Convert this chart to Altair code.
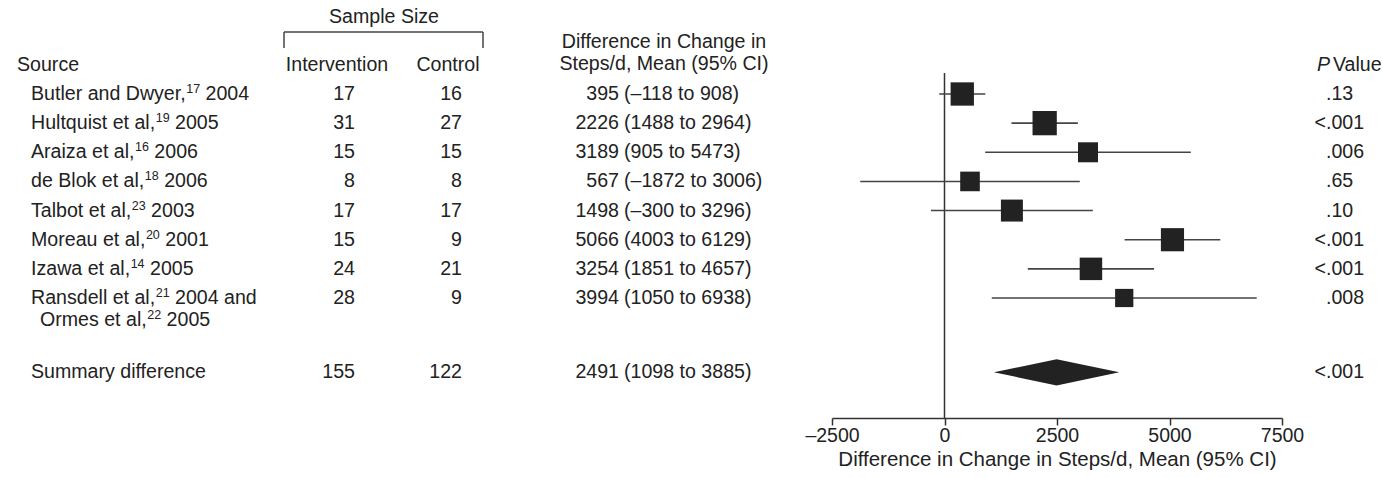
import altair as alt
import pandas as pd

# ---- study data -------------------------------------------------------------
# each source label: (author text, reference number, year text)
source_author = [
    "Butler and Dwyer,",
    "Hultquist et al,",
    "Araiza et al,",
    "de Blok et al,",
    "Talbot et al,",
    "Moreau et al,",
    "Izawa et al,",
    "Ransdell et al,",
]
source_ref = ["17", "19", "16", "18", "23", "20", "14", "21"]
source_year = ["2004", "2005", "2006", "2006", "2003", "2001", "2005", "2004 and"]
continuation_author = "Ormes et al,"
continuation_ref = "22"
continuation_year = "2005"

n_intervention = [17, 31, 15, 8, 17, 15, 24, 28]
n_control = [16, 27, 15, 8, 17, 9, 21, 9]
mean_diff = [395, 2226, 3189, 567, 1498, 5066, 3254, 3994]
ci_low = [-118, 1488, 905, -1872, -300, 4003, 1851, 1050]
ci_high = [908, 2964, 5473, 3006, 3296, 6129, 4657, 6938]
p_values = [".13", "<.001", ".006", ".65", ".10", "<.001", "<.001", ".008"]
weights = [14.4, 15.6, 10.6, 10.2, 12.8, 14.2, 13.4, 8.8]  # study weight, %

summary_label = "Summary difference"
summary_n_intervention = 155
summary_n_control = 122
summary_mean = 2491
summary_low = 1098
summary_high = 3885
summary_p = "<.001"

x_ticks = [-2500, 0, 2500, 5000, 7500]

# ---- layout / styling ---------------------------------------------------------
FONT = "Liberation Sans"
INK = "#222222"
FS = 19.6          # body text
FS_SUP = 12.5      # reference superscripts
LABEL_X = 31
study_rows = list(range(len(source_author)))
summary_row = 9.55
continuation_row = 7.75

# Liberation Sans advance widths (Arial-compatible), units per 1000 em
ADV = {" ": 278, ",": 278, "a": 556, "b": 556, "c": 500, "d": 556, "e": 556,
       "f": 278, "g": 556, "h": 556, "i": 222, "k": 500, "l": 222, "m": 833,
       "n": 556, "o": 556, "p": 556, "q": 556, "r": 333, "s": 500, "t": 278,
       "u": 556, "v": 500, "w": 722, "y": 500, "z": 500, "A": 667, "B": 667,
       "D": 722, "H": 722, "I": 278, "M": 833, "O": 778, "R": 722, "T": 611}
KERN = {"Ta": -111, "r,": -55}


def text_width(s, size):
    units = sum(ADV.get(ch, 556) for ch in s)
    units += sum(KERN.get(s[k:k + 2], 0) for k in range(len(s) - 1))
    return units * size / 1000.0


x_scale = alt.Scale(domain=[-2500, 7500], range=[832, 1282], nice=False, zero=False)
y_scale = alt.Scale(domain=[0, 7], range=[94, 298], nice=False, zero=False)
x_axis = alt.Axis(
    values=x_ticks,
    title="Difference in Change in Steps/d, Mean (95% CI)",
    labelExpr="(datum.value < 0 ? '\u2013' : '') + format(abs(datum.value), 'd')",
    labelFlush=False,
    grid=False,
    domainColor="#333333",
    domainWidth=1.5,
    tickColor="#333333",
    tickWidth=1.5,
    tickSize=7,
    labelFont=FONT,
    labelFontSize=19.5,
    labelColor=INK,
    labelPadding=1,
    titleFont=FONT,
    titleFontSize=20.5,
    titleFontWeight="normal",
    titleColor=INK,
    titlePadding=5,
)


def fmt_num(v):
    return ("\u2013" + str(abs(v))) if v < 0 else str(v)


def ci_text(lo, hi):
    return f"({fmt_num(lo)} to {fmt_num(hi)})"


rows = pd.DataFrame({
    "row": study_rows + [summary_row],
    "n_i": [str(v) for v in n_intervention + [summary_n_intervention]],
    "n_c": [str(v) for v in n_control + [summary_n_control]],
    "mean": [str(v) for v in mean_diff + [summary_mean]],
    "ci": [ci_text(a, b) for a, b in zip(ci_low + [summary_low], ci_high + [summary_high])],
    "p_pre": [("<" if p.startswith("<") else "") for p in p_values + [summary_p]],
    "p_rest": [p.lstrip("<") for p in p_values + [summary_p]],
})

studies = pd.DataFrame({
    "row": study_rows,
    "mean": mean_diff,
    "lo": ci_low,
    "hi": ci_high,
    "weight": weights,
})

diamond = pd.DataFrame({
    "x": [summary_low, summary_mean, summary_high],
    "y_lo": [summary_row, summary_row - 0.45, summary_row],
    "y_hi": [summary_row, summary_row + 0.45, summary_row],
})

Y = alt.Y("row:Q", scale=y_scale, axis=None)


def column(field, x, align):
    return alt.Chart(rows).mark_text(
        font=FONT, fontSize=FS, color=INK, align=align, baseline="middle"
    ).encode(x=alt.value(x), y=Y, text=f"{field}:N")


def header(text, x, y, align="center", style="normal"):
    return alt.Chart(pd.DataFrame({"t": [text]})).mark_text(
        font=FONT, fontSize=FS, color=INK, align=align, baseline="middle", fontStyle=style
    ).encode(x=alt.value(x), y=alt.value(y), text="t:N")


def line(x, x2, y, y2):
    return alt.Chart(pd.DataFrame({"k": [0]})).mark_rule(
        color="#444444", strokeWidth=1.5
    ).encode(x=alt.value(x), x2=alt.value(x2), y=alt.value(y), y2=alt.value(y2))


def row_text(text, row, x, size=FS, dy=0):
    return alt.Chart(pd.DataFrame({"row": [row], "t": [text]})).mark_text(
        font=FONT, fontSize=size, color=INK, align="left", baseline="middle", dy=dy
    ).encode(x=alt.value(x), y=Y, text="t:N")


# ---- source labels: author, raised reference number, year -------------------------
label_layers = []
all_authors = source_author + [continuation_author]
all_refs = source_ref + [continuation_ref]
all_years = source_year + [continuation_year]
all_rows = study_rows + [continuation_row]
for i, (au, rf, yr, r) in enumerate(zip(all_authors, all_refs, all_years, all_rows)):
    x0 = LABEL_X + (9 if i == len(all_authors) - 1 else 0)
    x_sup = x0 + text_width(au, FS) + 0.5
    x_year = x_sup + text_width(rf, FS_SUP) + text_width(" ", FS)
    label_layers += [
        row_text(au, r, x0),
        row_text(rf, r, x_sup, FS_SUP, -5),
        row_text(yr, r, x_year),
    ]
label_layers.append(row_text(summary_label, summary_row, LABEL_X))

# ---- table columns --------------------------------------------------------------
col_ni = column("n_i", 355, "right")
col_nc = column("n_c", 462, "right")
col_mean = column("mean", 619, "right")
col_ci = column("ci", 624, "left")
col_p_pre = column("p_pre", 1326, "right")
col_p_rest = column("p_rest", 1326, "left")

headers = [
    header("Sample Size", 384, 17),
    line(284, 483, 32, 32),
    line(284, 284, 32, 48),
    line(483, 483, 32, 48),
    header("Source", 17, 65, "left"),
    header("Intervention", 337, 65),
    header("Control", 448, 65),
    header("Difference in Change in", 664, 42),
    header("Steps/d, Mean (95% CI)", 664, 64),
    header("P", 1317, 65, "left", "italic"),
    header("Value", 1333, 65, "left"),
]

# ---- forest plot ----------------------------------------------------------------
zero_line = alt.Chart(pd.DataFrame({"v": [0]})).mark_rule(
    color="#333333", strokeWidth=1.5
).encode(
    x=alt.X("v:Q", scale=x_scale, axis=x_axis),
    y=alt.value(73),
    y2=alt.value(418),
)

ci_lines = alt.Chart(studies).mark_rule(color="#444444", strokeWidth=1.6).encode(
    x=alt.X("lo:Q", scale=x_scale, axis=x_axis),
    x2="hi:Q",
    y=Y,
)

squares = alt.Chart(studies).mark_square(filled=True, color="#222222", opacity=1).encode(
    x=alt.X("mean:Q", scale=x_scale, axis=x_axis),
    y=Y,
    size=alt.Size("weight:Q", scale=alt.Scale(domain=[0, 20], range=[0, 755]), legend=None),
)

summary_diamond = alt.Chart(diamond).mark_area(
    color="#222222", opacity=1, orient="vertical"
).encode(
    x=alt.X("x:Q", scale=x_scale, axis=x_axis),
    y=alt.Y("y_lo:Q", scale=y_scale, axis=None),
    y2="y_hi:Q",
)

chart = alt.layer(
    zero_line, ci_lines, squares, summary_diamond,
    *label_layers,
    col_ni, col_nc, col_mean, col_ci, col_p_pre, col_p_rest,
    *headers,
).properties(
    width=1383,
    height=418,
    padding={"left": 0, "right": 0, "top": 0, "bottom": 60},
    autosize=alt.AutoSizeParams(type="none"),
    background="white",
).configure_view(stroke=None)

chart.save("out.html", embed_options={"renderer": "svg", "actions": False})
